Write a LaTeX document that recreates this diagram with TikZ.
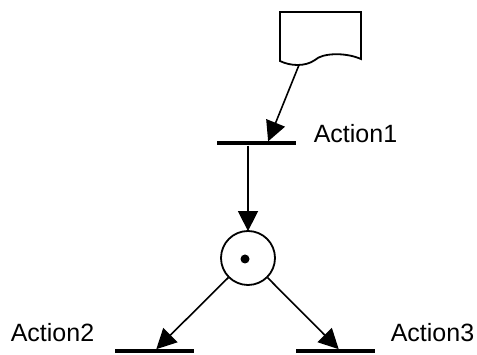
\documentclass[tikz,border=0pt]{standalone}
\usepackage{fontspec}
\setmainfont{Liberation Sans}
\usetikzlibrary{arrows.meta}
\begin{document}
\begin{tikzpicture}[x=1pt,y=1pt,
  line width=1.6pt,
  arr/.style={-{Triangle[length=20pt,width=20pt]}, shorten >=-1pt},
  bar/.style={fill=black, inner sep=0pt, minimum width=79pt, minimum height=3.5pt},
  place/.style={circle, draw, line width=1.8pt, minimum size=54pt, inner sep=0pt},
  lbl/.style={font=\fontsize{25}{28}\selectfont, inner sep=0pt, anchor=west}]
\useasboundingbox (0,0) rectangle (477,-355);

% document symbol
\draw[line width=1.8pt] (280,-12) -- (280,-61)
  .. controls (290,-66) and (305,-67) .. (315,-60)
  .. controls (322,-53) and (345,-52) .. (361,-59) -- (361,-12) -- cycle;
\coordinate (docb) at (299,-65);

% transitions
\node[bar] (t1) at (256.5,-143) {};
\node[bar] (t2) at (154,-351) {};
\node[bar] (t3) at (335,-351) {};

% place with token
\node[place] (p) at (248,-258) {};
\fill (245,-259) circle (4.5pt);

% labels
\node[lbl] (l1) at (313,-134) {Action1};
\node[lbl] (l2) at (10,-333) {Action2};
\node[lbl] (l3) at (390,-333) {Action3};

% arcs
\draw[arr] (docb) -- ([xshift=12pt]t1.north);
\draw[arr] (t1.south -| p.north) -- (p.north);
\draw[arr] (p) -- ([xshift=3pt]t2.north);
\draw[arr] (p) -- ([xshift=3pt]t3.north);
\end{tikzpicture}
\end{document}
